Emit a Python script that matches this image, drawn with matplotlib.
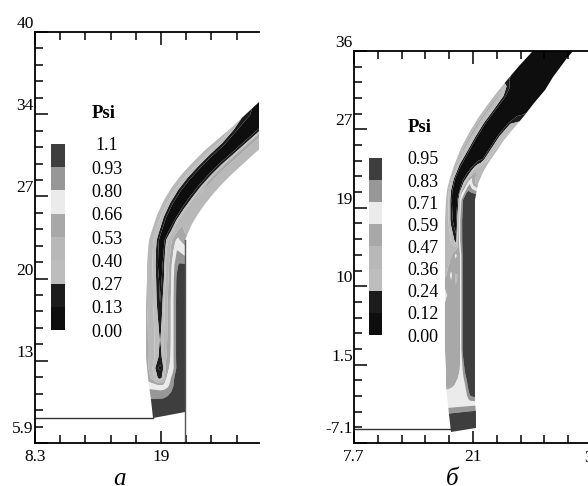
import numpy as np
import matplotlib
matplotlib.use('Agg')
import matplotlib.pyplot as plt
from matplotlib.transforms import ScaledTranslation

plt.rcParams['font.family'] = ['Liberation Serif', 'DejaVu Serif']

# ---------------- legend levels / colours ----------------
levels_a = [0.00, 0.13, 0.27, 0.40, 0.53, 0.66, 0.80, 0.93, 1.1]
labels_a = ['0.00', '0.13', '0.27', '0.40', '0.53', '0.66', '0.80', '0.93', '1.1']
levels_b = [0.00, 0.12, 0.24, 0.36, 0.47, 0.59, 0.71, 0.83, 0.95]
labels_b = ['0.00', '0.12', '0.24', '0.36', '0.47', '0.59', '0.71', '0.83', '0.95']
band_colors = ['#0e0e0e', '#1c1c1c', '#bdbdbd', '#b8b8b8', '#a8a8a8',
               '#ebebeb', '#979797', '#3e3e3e']

# fraction across the channel (0 = outer wall, 1 = inner wall)
n_frac = [0.00, 0.10, 0.20, 0.30, 0.36, 0.42, 0.50, 0.60, 0.67, 0.72, 0.78, 0.85, 1.00]

# ---------------- panel a: channel stations ----------------
outer_a_x = [18.32, 18.15, 18.07, 17.98, 17.90, 17.81, 17.73, 17.73, 17.73, 17.73, 17.81, 17.81, 17.90,
             17.98, 18.24, 18.66, 19.25, 19.93, 20.78, 21.72, 22.74, 23.84, 25.03, 27.32, 29.11]
outer_a_y = [7.97, 9.47, 10.05, 10.63, 11.29, 12.12, 13.03, 14.44, 16.10, 17.76, 19.42, 20.67, 21.91,
             22.74, 23.57, 24.82, 26.06, 27.14, 28.22, 29.21, 30.21, 31.12, 32.12, 34.19, 35.85]
inner_a_x = [21.04, 21.04, 21.04, 21.04, 21.04, 21.04, 21.04, 21.04, 21.04, 21.04, 21.04, 21.04, 21.04,
             21.04, 21.29, 21.63, 22.14, 22.74, 23.42, 24.18, 25.03, 25.96, 27.07, 29.45, 31.23]
inner_a_y = [8.47, 9.63, 10.05, 10.63, 11.29, 12.12, 13.03, 14.44, 16.10, 17.76, 19.42, 20.67, 21.91,
             22.74, 23.32, 24.07, 24.90, 25.73, 26.56, 27.39, 28.22, 29.05, 30.04, 32.03, 33.69]
psi_a = [
    [1.00] * 13,
    [0.94, 0.94, 0.94, 0.94, 0.94, 0.95, 0.96, 0.98, 1.00, 1.00, 1.00, 1.00, 1.00],
    [0.86, 0.86, 0.86, 0.86, 0.87, 0.88, 0.90, 0.94, 1.00, 1.00, 1.00, 1.00, 1.00],
    [0.75, 0.74, 0.72, 0.70, 0.70, 0.72, 0.76, 0.84, 0.92, 1.00, 1.00, 1.00, 1.00],
    [0.58, 0.50, 0.35, 0.22, 0.25, 0.40, 0.66, 0.78, 0.86, 0.95, 1.00, 1.00, 1.00],
    [0.56, 0.48, 0.30, 0.12, 0.10, 0.25, 0.58, 0.68, 0.74, 0.84, 0.95, 1.00, 1.00],
    [0.56, 0.50, 0.42, 0.30, 0.20, 0.30, 0.50, 0.62, 0.72, 0.84, 0.95, 1.00, 1.00],
    [0.56, 0.50, 0.42, 0.32, 0.26, 0.33, 0.48, 0.60, 0.72, 0.84, 0.95, 1.00, 1.00],
    [0.55, 0.50, 0.40, 0.28, 0.20, 0.30, 0.46, 0.60, 0.72, 0.84, 0.95, 1.00, 1.00],
    [0.54, 0.48, 0.38, 0.22, 0.12, 0.26, 0.45, 0.60, 0.72, 0.84, 0.95, 1.00, 1.00],
    [0.52, 0.46, 0.35, 0.15, 0.08, 0.20, 0.44, 0.58, 0.72, 0.84, 0.95, 1.00, 1.00],
    [0.50, 0.45, 0.33, 0.10, 0.05, 0.15, 0.42, 0.56, 0.70, 0.80, 0.90, 0.95, 0.95],
    [0.48, 0.44, 0.30, 0.08, 0.04, 0.12, 0.40, 0.52, 0.62, 0.72, 0.80, 0.78, 0.70],
    [0.47, 0.43, 0.30, 0.07, 0.04, 0.08, 0.35, 0.50, 0.56, 0.62, 0.70, 0.66, 0.60],
    [0.46, 0.42, 0.28, 0.06, 0.04, 0.05, 0.22, 0.46, 0.52, 0.55, 0.58, 0.55, 0.50],
    [0.46, 0.42, 0.26, 0.05, 0.04, 0.04, 0.10, 0.40, 0.50, 0.50, 0.50, 0.48, 0.45],
    [0.45, 0.42, 0.25, 0.04, 0.03, 0.03, 0.05, 0.28, 0.48, 0.50, 0.50, 0.48, 0.45],
    [0.45, 0.42, 0.24, 0.04, 0.03, 0.03, 0.04, 0.22, 0.48, 0.52, 0.50, 0.48, 0.45],
    [0.45, 0.42, 0.24, 0.04, 0.03, 0.03, 0.04, 0.22, 0.50, 0.54, 0.50, 0.48, 0.45],
    [0.45, 0.42, 0.24, 0.04, 0.03, 0.03, 0.04, 0.22, 0.56, 0.56, 0.50, 0.48, 0.45],
    [0.45, 0.42, 0.24, 0.04, 0.03, 0.03, 0.04, 0.22, 0.56, 0.56, 0.50, 0.48, 0.45],
    [0.45, 0.40, 0.20, 0.04, 0.03, 0.03, 0.04, 0.22, 0.56, 0.56, 0.50, 0.48, 0.45],
    [0.40, 0.25, 0.08, 0.04, 0.03, 0.03, 0.04, 0.22, 0.56, 0.56, 0.50, 0.48, 0.45],
    [0.04, 0.04, 0.04, 0.04, 0.03, 0.03, 0.04, 0.22, 0.56, 0.56, 0.50, 0.48, 0.45],
    [0.04, 0.04, 0.04, 0.04, 0.03, 0.03, 0.04, 0.22, 0.56, 0.56, 0.50, 0.48, 0.45],
]

# ---------------- panel b: channel stations ----------------
outer_b_x = [18.54, 18.32, 18.21, 18.09, 17.98, 17.98, 17.87, 17.87, 17.87, 17.87, 17.87, 17.87, 17.87,
             17.87, 17.98, 18.09, 18.43, 18.99, 19.66, 20.55, 21.56, 22.68, 23.79, 24.91, 26.14, 27.48,
             29.16, 30.72]
outer_b_y = [-5.89, -4.02, -2.92, -1.82, -0.72, 0.93, 3.13, 5.32, 7.52, 9.17, 11.37, 13.57, 15.22,
             17.42, 19.62, 20.72, 22.04, 23.69, 25.33, 26.98, 28.63, 30.17, 31.60, 32.92, 34.35, 35.78,
             37.65, 39.41]
inner_b_x = [21.33, 21.33, 21.22, 21.22, 21.22, 21.22, 21.22, 21.22, 21.22, 21.22, 21.22, 21.22, 21.22,
             21.22, 21.22, 21.33, 21.56, 22.12, 22.79, 23.57, 24.46, 25.58, 26.70, 27.82, 29.05, 29.94,
             31.51, 33.07]
inner_b_y = [-5.45, -3.69, -2.70, -1.82, -0.72, 0.93, 3.13, 5.32, 7.52, 9.17, 11.37, 13.57, 15.22,
             17.42, 19.62, 20.17, 21.38, 22.70, 23.80, 24.90, 26.21, 27.53, 28.85, 30.28, 31.71, 33.14,
             35.23, 36.99]
psi_b = [
    [0.90] * 13,
    [0.86] * 13,
    [0.65] * 13,
    [0.62, 0.62, 0.62, 0.63, 0.63, 0.64, 0.65, 0.66, 0.68, 0.72, 0.80, 0.86, 0.90],
    [0.56, 0.57, 0.58, 0.59, 0.60, 0.61, 0.63, 0.66, 0.72, 0.80, 0.88, 0.90, 0.90],
    [0.53, 0.53, 0.54, 0.55, 0.56, 0.57, 0.60, 0.75, 0.88, 0.90, 0.90, 0.90, 0.90],
    [0.52, 0.52, 0.53, 0.54, 0.55, 0.56, 0.58, 0.88, 0.90, 0.90, 0.90, 0.90, 0.90],
    [0.52, 0.52, 0.53, 0.54, 0.55, 0.56, 0.58, 0.88, 0.90, 0.90, 0.90, 0.90, 0.90],
    [0.53, 0.52, 0.52, 0.52, 0.52, 0.53, 0.57, 0.88, 0.90, 0.90, 0.90, 0.90, 0.90],
    [0.65, 0.55, 0.50, 0.48, 0.48, 0.50, 0.57, 0.88, 0.90, 0.90, 0.90, 0.90, 0.90],
    [0.44, 0.50, 0.62, 0.50, 0.46, 0.47, 0.57, 0.88, 0.90, 0.90, 0.90, 0.90, 0.90],
    [0.42, 0.42, 0.45, 0.55, 0.62, 0.55, 0.58, 0.88, 0.90, 0.90, 0.90, 0.90, 0.90],
    [0.42, 0.40, 0.35, 0.25, 0.15, 0.40, 0.70, 0.88, 0.90, 0.90, 0.90, 0.90, 0.90],
    [0.42, 0.38, 0.20, 0.06, 0.06, 0.30, 0.70, 0.88, 0.90, 0.90, 0.90, 0.90, 0.90],
    [0.42, 0.35, 0.12, 0.04, 0.04, 0.20, 0.65, 0.86, 0.90, 0.90, 0.90, 0.90, 0.90],
    [0.42, 0.33, 0.08, 0.03, 0.03, 0.12, 0.55, 0.70, 0.84, 0.88, 0.88, 0.88, 0.86],
    [0.42, 0.33, 0.06, 0.03, 0.03, 0.06, 0.20, 0.50, 0.62, 0.68, 0.60, 0.50, 0.42],
    [0.42, 0.40, 0.15, 0.03, 0.03, 0.03, 0.05, 0.15, 0.30, 0.40, 0.45, 0.42, 0.40],
    [0.42, 0.50, 0.30, 0.04, 0.03, 0.03, 0.03, 0.03, 0.04, 0.06, 0.12, 0.30, 0.40],
    [0.42, 0.50, 0.30, 0.04, 0.03, 0.03, 0.03, 0.03, 0.04, 0.06, 0.12, 0.30, 0.40],
    [0.42, 0.50, 0.30, 0.04, 0.03, 0.03, 0.03, 0.03, 0.04, 0.06, 0.12, 0.30, 0.40],
    [0.42, 0.50, 0.30, 0.04, 0.03, 0.03, 0.03, 0.03, 0.04, 0.06, 0.10, 0.25, 0.35],
    [0.42, 0.48, 0.25, 0.04, 0.03, 0.03, 0.03, 0.03, 0.03, 0.04, 0.05, 0.06, 0.15],
    [0.15, 0.08, 0.04, 0.03, 0.03, 0.03, 0.03, 0.03, 0.03, 0.03, 0.03, 0.03, 0.03],
    [0.03] * 13,
    [0.03] * 13,
    [0.03] * 13,
    [0.03] * 13,
]

# ---------------- axes ticks ----------------
xt_a = [8.3, 19.0]; xtl_a = ['8.3', '19']
yt_a = [5.9, 12.72, 19.54, 26.36, 33.18, 40.0]; ytl_a = ['5.9', '13', '20', '27', '34', '40']
xt_b = [7.7, 21.0]; xtl_b = ['7.7', '21']
next_b = 34.3; next_b_label = '34.3'
yt_b = [-7.1, 1.52, 10.14, 18.76, 27.38, 36.0]; ytl_b = ['-7.1', '1.5', '10', '19', '27', '36']

W, H = 588, 486
fig = plt.figure(figsize=(W / 100, H / 100), dpi=100)
fig.patch.set_facecolor('white')

TICK_FS = 12.5
LEG_FS = 13


def px_axes(l, t, r, b):
    return fig.add_axes([l / W, 1 - b / H, (r - l) / W, (b - t) / H])


def channel(ax, ox, oy, ix, iy, psi, levels):
    ox, oy, ix, iy = map(np.asarray, (ox, oy, ix, iy))
    n = np.asarray(n_frac)
    X = ox[:, None] + (ix - ox)[:, None] * n[None, :]
    Y = oy[:, None] + (iy - oy)[:, None] * n[None, :]
    Z = np.asarray(psi)
    return ax.contourf(X, Y, Z, levels=levels, colors=band_colors, antialiased=True)


def style_axes(ax, xlim, ylim, xt, xtl, yt, ytl):
    ax.spines['right'].set_visible(False)
    for s in ('left', 'top', 'bottom'):
        ax.spines[s].set_linewidth(1.3)
    ax.set_xticks(xt)
    ax.set_xticklabels(xtl)
    ax.set_yticks(yt)
    ax.set_yticklabels(ytl)
    dx = (xt[1] - xt[0]) / 5
    dy = (yt[1] - yt[0]) / 5
    ax.set_xticks(np.arange(xt[0], xlim[1] + 1e-6, dx), minor=True)
    ax.set_yticks(np.arange(yt[0], ylim[1] + 1e-6, dy), minor=True)
    ax.set_xlim(*xlim)
    ax.set_ylim(*ylim)
    ax.tick_params(which='both', direction='in', top=True, bottom=True, left=True, right=False,
                   labelsize=TICK_FS, width=1.1)
    ax.tick_params(which='major', length=9, pad=4)
    ax.tick_params(which='minor', length=6)
    ax.tick_params(axis='y', which='major', pad=1)
    for i, lab in enumerate(ax.get_yticklabels()):
        dyp = 16 if i == 0 else 10
        lab.set_transform(lab.get_transform() + ScaledTranslation(0, dyp / 100, fig.dpi_scale_trans))


def legend(cs, l, t, r, b, cx, psi_y, labels):
    cax = px_axes(l, t, r, b)
    cb = fig.colorbar(cs, cax=cax)
    cb.outline.set_visible(False)
    cb.set_ticks(cs.levels)
    cb.set_ticklabels(labels)
    cax.tick_params(length=0, pad=(cx - r) * 0.72, labelsize=LEG_FS)
    for lab in cax.get_yticklabels():
        lab.set_horizontalalignment('center')
    fig.text(cx / W - 0.005, 1 - psi_y / H, 'Psi', fontsize=13.5, fontweight='bold',
             ha='center', va='center')


# panel a
ax_a = px_axes(35, 32, 259, 443)
cs_a = channel(ax_a, outer_a_x, outer_a_y, inner_a_x, inner_a_y, psi_a, levels_a)
ax_a.plot([8.3, 18.32], [7.97, 7.97], color='#333333', lw=1.0)
ax_a.plot([21.04, 21.04], [5.9, 22.74], color='#555555', lw=1.0)
style_axes(ax_a, (8.3, 27.32), (5.9, 40.0), xt_a, xtl_a, yt_a, ytl_a)
legend(cs_a, 51, 144, 65, 330, 107, 113, labels_a)

# panel b
ax_b = px_axes(354, 51, 588, 443)
cs_b = channel(ax_b, outer_b_x, outer_b_y, inner_b_x, inner_b_y, psi_b, levels_b)
ax_b.plot([7.7, 18.54], [-5.56, -5.56], color='#333333', lw=1.0)
style_axes(ax_b, (7.7, 33.85), (-7.1, 36.0), xt_b, xtl_b, yt_b, ytl_b)
legend(cs_b, 369, 158, 382, 335, 423, 128, labels_b)

# label of the next major tick, just past the right edge of panel b (cut as in the source)
ax_b.annotate(next_b_label, xy=(next_b, 0), xycoords=('data', 'axes fraction'),
              xytext=(-6, -11), textcoords='offset points', ha='left', va='center',
              fontsize=TICK_FS, annotation_clip=False)

# captions
fig.text(120 / W, 1 - 485 / H, 'а', fontsize=18, style='italic', ha='center', va='baseline')
fig.text(452 / W, 1 - 485 / H, 'б', fontsize=18, style='italic', ha='center', va='baseline')

fig.savefig('out.png', dpi=100, facecolor='white')
